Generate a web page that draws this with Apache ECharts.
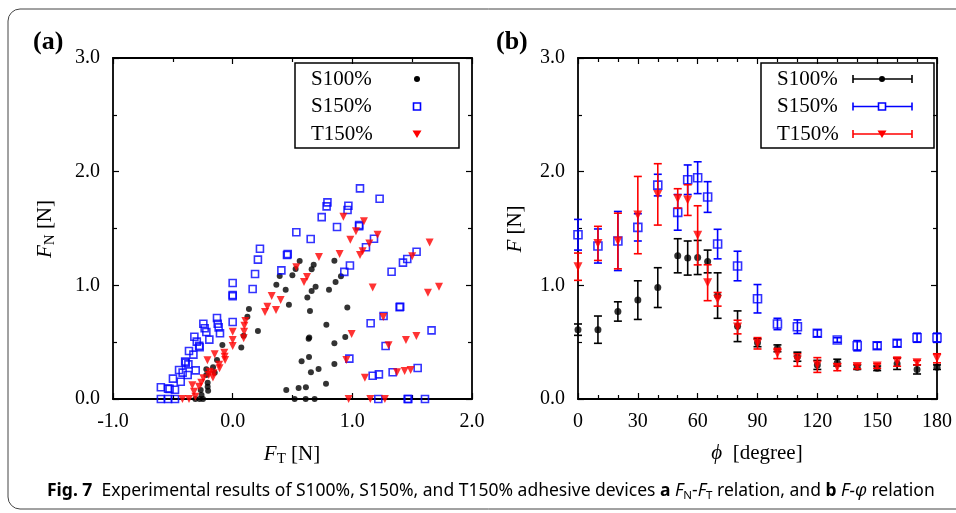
<!DOCTYPE html>
<html>
<head>
<meta charset="utf-8">
<script src="https://cdn.jsdelivr.net/npm/echarts@6/dist/echarts.min.js"></script>
<style>
  html, body { margin: 0; padding: 0; background: #fff; }
  #main { width: 956px; height: 513px; }
</style>
</head>
<body>
<div id="main"></div>
<script>
// ---------- (a) F_N versus F_T : raw measurement points ----------
const s100_FT = [0.56, 0.393, 0.499, 0.365, 0.443, 0.47, 0.136, 0.123, 0.211, 0.092, 0.072, -0.086, -0.131,
  -0.164, -0.15, -0.22, -0.22, -0.209, -0.209, -0.205, -0.267, -0.26, -0.312, -0.276, -0.248,
  0.526, 0.677, 0.66, 0.85, 0.905, 0.86, 0.805, 0.693, 0.66, 0.624, 0.646, 0.958, 0.783, 0.635, 0.64,
  0.941, 0.85, 0.638, 0.576, 0.718, 0.654, 0.85, 0.78, 0.448, 0.551, 0.612, 0.518, 0.61, 0.685];
const s100_FN = [1.215, 1.082, 1.088, 1.006, 0.962, 0.83, 0.792, 0.724, 0.599, 0.557, 0.452, 0.475, 0.343,
  0.279, 0.232, 0.261, 0.211, 0.143, 0.108, 0.073, 0.079, 0.035, 0, 0, 0,
  1.144, 1.182, 1.141, 1.217, 1.079, 1.029, 0.962, 0.988, 0.95, 0.894, 0.774, 0.806, 0.654, 0.53, 0.54,
  0.545, 0.49, 0.37, 0.332, 0.264, 0.235, 0.308, 0.135, 0.079, 0.097, 0.103, 0, 0, 0];

const s150_FT = [0.532, 0.228, 0.211, 0.454, 0.46, 0.187, 0.407, 0.167, 0, 0, 0, 0, -0.131, -0.125, -0.117, -0.106,
  -0.245, -0.234, -0.22, -0.195, -0.32, -0.30, -0.28, -0.276, -0.365, -0.328, -0.397, -0.392, -0.37,
  -0.448, -0.418, -0.309, -0.376, -0.499, -0.434, -0.60, -0.54, -0.527, -0.482, -0.60, -0.54, -0.482,
  1.064, 1.228, 0.792, 0.785, 0.967, 0.96, 0.744, 1.057, 1.057, 0.872, 0.652, 1.181, 1.114, 0.98, 0.933,
  1.537, 1.459, 1.423, 1.328, 1.40, 1.395, 1.261, 1.153, 1.662, 1.278, 0.975, 1.546, 1.337, 1.222, 1.17,
  1.217, 1.462, 1.468, 1.607];
const s150_FN = [1.467, 1.322, 1.226, 1.267, 1.275, 1.10, 1.132, 0.968, 1.02, 0.915, 0.905, 0.677, 0.712, 0.662, 0.63, 0.578,
  0.662, 0.622, 0.59, 0.522, 0.548, 0.505, 0.468, 0.456, 0.422, 0.39, 0.33, 0.32, 0.305,
  0.255, 0.232, 0.252, 0.211, 0.179, 0.152, 0.103, 0.091, 0.089, 0.082, 0, 0, 0,
  1.853, 1.762, 1.73, 1.695, 1.70, 1.663, 1.60, 1.53, 1.52, 1.513, 1.408, 1.41, 1.335, 1.174, 1.118,
  1.296, 1.232, 1.20, 1.12, 0.812, 0.808, 0.73, 0.666, 0.604, 0.466, 0.355, 0.273, 0.235, 0.217, 0.205,
  0, 0, 0, 0];

const t150_FT = [0.532, 0.326, 0.401, 0.29, 0.27, 0.362, 0, 0.106, 0.098, 0.096, 0.092, 0, 0, -0.15, -0.07, -0.067,
  -0.063, -0.211, -0.113, -0.11, -0.192, -0.2, -0.159, -0.165, -0.245, -0.262, -0.281, -0.337, -0.323,
  -0.312, -0.42, -0.365,
  0.925, 1.097, 1.03, 1.211, 1.142, 1.086, 1.064, 0.983, 0.894, 0.721, 0.621, 0.596, 1.646, 1.724, 1.632,
  1.17, 1.50, 1.259, 0.994, 1.535, 1.448, 1.303, 0.95, 1.105, 1.487, 1.437, 1.373, 0.969, 1.15, 1.272];
const t150_FN = [1.158, 0.906, 0.871, 0.812, 0.765, 0.783, 0.592, 0.686, 0.645, 0.592, 0.534, 0.519, 0.466, 0.393, 0.407, 0.372,
  0.343, 0.34, 0.302, 0.27, 0.24, 0.211, 0.226, 0.19, 0.182, 0.143, 0.108, 0.12, 0.064,
  0.02, 0, 0,
  1.604, 1.563, 1.475, 1.446, 1.367, 1.30, 1.267, 1.40, 1.275, 1.249, 1.073, 1.029, 1.376, 0.988, 0.935,
  0.982, 1.255, 0.721, 0.572, 0.554, 0.519, 0.472, 0.343, 0.188, 0.255, 0.246, 0.235, 0, 0, 0];

// ---------- (b) F versus phi : mean and error ----------
const phi = [0, 10, 20, 30, 40, 50, 55, 60, 65, 70, 80, 90, 100, 110, 120, 130, 140, 150, 160, 170, 180];
const s100_F   = [0.61, 0.61, 0.77, 0.87, 0.98, 1.26, 1.24, 1.245, 1.21, 0.91, 0.64, 0.495, 0.446, 0.372, 0.30, 0.32, 0.28, 0.27, 0.31, 0.26, 0.28];
const s100_err = [0.05, 0.12, 0.085, 0.17, 0.175, 0.15, 0.15, 0.15, 0.10, 0.2, 0.135, 0.035, 0.03, 0.04, 0.04, 0.03, 0.02, 0.02, 0.05, 0.04, 0.02];
const s150_F   = [1.445, 1.346, 1.39, 1.51, 1.882, 1.642, 1.929, 1.947, 1.777, 1.363, 1.17, 0.882, 0.66, 0.636, 0.578, 0.519, 0.469, 0.469, 0.49, 0.539, 0.539];
const s150_err = [0.135, 0.15, 0.26, 0.12, 0.095, 0.157, 0.13, 0.14, 0.135, 0.13, 0.13, 0.125, 0.05, 0.06, 0.03, 0.02, 0.045, 0.03, 0.03, 0.04, 0.04];
const t150_F   = [1.164, 1.369, 1.39, 1.618, 1.80, 1.765, 1.75, 1.44, 1.023, 0.877, 0.633, 0.49, 0.40, 0.343, 0.299, 0.279, 0.285, 0.29, 0.328, 0.32, 0.358];
const t150_err = [0.12, 0.15, 0.245, 0.34, 0.27, 0.085, 0.135, 0.26, 0.158, 0.06, 0.06, 0.05, 0.045, 0.055, 0.065, 0.03, 0.02, 0.02, 0.04, 0.02, 0.04];

const seriesNames = ['S100%', 'S150%', 'T150%'];
const seriesColors = ['#000000', '#0000ff', '#ff0000'];

const SERIF = 'Liberation Serif';
const zip = (a, b) => a.map((v, i) => [v, b[i]]);

const chart = echarts.init(document.getElementById('main'), null, { renderer: 'canvas' });

function frameAxis(base) {
  return Object.assign({
    type: 'value',
    splitLine: { show: false },
    axisLine: { onZero: false, lineStyle: { color: '#000', width: 1.8 } },
    axisTick: { inside: true, length: 6, lineStyle: { color: '#000', width: 1.2 } },
    minorTick: { show: true, length: 4, lineStyle: { color: '#000', width: 1.2 } },
    axisLabel: { color: '#000', fontFamily: SERIF, fontSize: 20, margin: 12 }
  }, base);
}
function mirror(ax) {
  const m = JSON.parse(JSON.stringify(ax));
  m.axisLabel = { show: false };
  return m;
}

const xA0 = frameAxis({ gridIndex: 0, min: -1, max: 2, interval: 1, position: 'bottom',
  minorTick: { show: true, splitNumber: 2, length: 4, lineStyle: { color: '#000', width: 1.2 } },
  axisLabel: { color: '#000', fontFamily: SERIF, fontSize: 20, margin: 13, formatter: v => v.toFixed(1) } });
const yA0 = frameAxis({ gridIndex: 0, min: 0, max: 3, interval: 1, position: 'left',
  minorTick: { show: true, splitNumber: 2, length: 4, lineStyle: { color: '#000', width: 1.2 } },
  axisLabel: { color: '#000', fontFamily: SERIF, fontSize: 20, margin: 13, formatter: v => v.toFixed(1) } });
const xA1 = frameAxis({ gridIndex: 1, min: 0, max: 180, interval: 30, position: 'bottom',
  minorTick: { show: true, splitNumber: 3, length: 4, lineStyle: { color: '#000', width: 1.2 } },
  axisLabel: { color: '#000', fontFamily: SERIF, fontSize: 20, margin: 13 } });
const yA1 = frameAxis({ gridIndex: 1, min: 0, max: 3, interval: 1, position: 'left',
  minorTick: { show: true, splitNumber: 2, length: 4, lineStyle: { color: '#000', width: 1.2 } },
  axisLabel: { color: '#000', fontFamily: SERIF, fontSize: 20, margin: 13, formatter: v => v.toFixed(1) } });

const xTop0 = Object.assign(mirror(xA0), { position: 'top' });
const yRight0 = Object.assign(mirror(yA0), { position: 'right' });
const xTop1 = Object.assign(mirror(xA1), { position: 'top' });
const yRight1 = Object.assign(mirror(yA1), { position: 'right' });

// error bar renderer: vertical whisker with caps
function errorBarSeries(name, color, F, err, z) {
  return {
    name: name + ' err', type: 'custom', xAxisIndex: 2, yAxisIndex: 2, z: z, clip: false,
    data: phi.map((p, i) => [p, F[i] - err[i], F[i] + err[i]]),
    encode: { x: 0, y: [1, 2] },
    renderItem: function (params, api) {
      const lo = api.coord([api.value(0), api.value(1)]);
      const hi = api.coord([api.value(0), api.value(2)]);
      const w = 4;
      const st = { stroke: color, lineWidth: 1.6 };
      return {
        type: 'group',
        children: [
          { type: 'line', shape: { x1: lo[0], y1: lo[1], x2: hi[0], y2: hi[1] }, style: st },
          { type: 'line', shape: { x1: lo[0] - w, y1: lo[1], x2: lo[0] + w, y2: lo[1] }, style: st },
          { type: 'line', shape: { x1: hi[0] - w, y1: hi[1], x2: hi[0] + w, y2: hi[1] }, style: st }
        ]
      };
    }
  };
}

const markerDefs = [
  { symbol: 'circle', size: 6, rotate: 0, style: { color: '#000' } },
  { symbol: 'rect', size: 7, rotate: 0, style: { color: 'rgba(0,0,0,0)', borderColor: '#0000ff', borderWidth: 1.6 } },
  { symbol: 'triangle', size: 8, rotate: 180, style: { color: '#ff0000' } }
];

const leftData = [zip(s100_FT, s100_FN), zip(s150_FT, s150_FN), zip(t150_FT, t150_FN)];
const rightData = [zip(phi, s100_F), zip(phi, s150_F), zip(phi, t150_F)];
const rightErr = [s100_err, s150_err, t150_err];

const series = [];
leftData.forEach((d, i) => {
  series.push({
    name: seriesNames[i], type: 'scatter', xAxisIndex: 0, yAxisIndex: 0, data: d,
    symbol: markerDefs[i].symbol, symbolSize: markerDefs[i].size, symbolRotate: markerDefs[i].rotate,
    itemStyle: markerDefs[i].style, z: 3 + i, clip: false
  });
});
rightData.forEach((d, i) => {
  series.push(errorBarSeries(seriesNames[i], seriesColors[i], d.map(p => p[1]), rightErr[i], 3 + 2 * i));
  series.push({
    name: seriesNames[i], type: 'scatter', xAxisIndex: 2, yAxisIndex: 2, data: d,
    symbol: markerDefs[i].symbol, symbolSize: markerDefs[i].size + 1, symbolRotate: markerDefs[i].rotate,
    itemStyle: markerDefs[i].style, z: 4 + 2 * i, clip: false
  });
});

// legend boxes drawn as graphic groups
function legendMarker(i, cx, cy) {
  if (i === 0) return { type: 'circle', shape: { cx: cx, cy: cy, r: 3 }, style: { fill: '#000' } };
  if (i === 1) return { type: 'rect', shape: { x: cx - 3.5, y: cy - 3.5, width: 7, height: 7 },
    style: { fill: '#fff', stroke: '#0000ff', lineWidth: 1.6 } };
  return { type: 'polygon', shape: { points: [[cx - 4.5, cy - 3.5], [cx + 4.5, cy - 3.5], [cx, cy + 4]] },
    style: { fill: '#ff0000' } };
}
function legendBox(x, y, w, h, textX, withBars, markX) {
  const ys = [79, 106.5, 134];
  const children = [{ type: 'rect', shape: { x: x, y: y, width: w, height: h },
    style: { fill: '#fff', stroke: '#000', lineWidth: 1.5 } }];
  seriesNames.forEach((n, i) => {
    children.push({ type: 'text', style: { x: textX, y: ys[i], text: n, fill: '#000',
      font: '21px "' + SERIF + '"', textVerticalAlign: 'middle' } });
    if (withBars) {
      const c = seriesColors[i];
      children.push({ type: 'line', shape: { x1: markX - 29, y1: ys[i], x2: markX + 30, y2: ys[i] }, style: { stroke: c, lineWidth: 1.6 } });
      children.push({ type: 'line', shape: { x1: markX - 29, y1: ys[i] - 4, x2: markX - 29, y2: ys[i] + 4 }, style: { stroke: c, lineWidth: 1.6 } });
      children.push({ type: 'line', shape: { x1: markX + 30, y1: ys[i] - 4, x2: markX + 30, y2: ys[i] + 4 }, style: { stroke: c, lineWidth: 1.6 } });
    }
    children.push(legendMarker(i, markX, ys[i]));
  });
  return { type: 'group', z: 50, children: children };
}

const richAxis = {
  it: { fontFamily: SERIF, fontStyle: 'italic', fontSize: 21, color: '#000', verticalAlign: 'middle', lineHeight: 26 },
  sub: { fontFamily: SERIF, fontSize: 15, color: '#000', verticalAlign: 'bottom', lineHeight: 15, padding: [0, 0, 0, 0] },
  rm: { fontFamily: SERIF, fontSize: 21, color: '#000', verticalAlign: 'middle', lineHeight: 26 }
};
const capFont = 'Noto Sans';
const CAP = 17.5;
const richCap = {
  b: { fontFamily: capFont, fontWeight: 'bold', fontSize: CAP, color: '#111', lineHeight: 22 },
  r: { fontFamily: capFont, fontSize: CAP, color: '#111', lineHeight: 22 },
  i: { fontFamily: capFont, fontStyle: 'italic', fontSize: CAP, color: '#111', lineHeight: 22 },
  s: { fontFamily: capFont, fontSize: 11.5, color: '#111', lineHeight: 14, verticalAlign: 'bottom' }
};

const graphic = [
  { type: 'rect', z: 0, silent: true, shape: { x: 8, y: 9, width: 1000, height: 500, r: 12 },
    style: { fill: 'none', stroke: '#444', lineWidth: 1 } },
  { type: 'text', style: { x: 33, y: 42, text: '(a)', font: 'bold 26px "' + SERIF + '"', fill: '#000', textVerticalAlign: 'middle' } },
  { type: 'text', style: { x: 496, y: 42, text: '(b)', font: 'bold 26px "' + SERIF + '"', fill: '#000', textVerticalAlign: 'middle' } },
  legendBox(295, 63, 164, 85, 311, false, 417),
  legendBox(761, 63, 173, 85, 777, true, 882),
  { type: 'text', x: 45, y: 229, rotation: Math.PI / 2,
    style: { text: '{it|F}{sub|N}{rm| [N]}', rich: richAxis, align: 'center', verticalAlign: 'middle' } },
  { type: 'text', x: 515, y: 229, rotation: Math.PI / 2,
    style: { text: '{it|F}{rm| [N]}', rich: richAxis, align: 'center', verticalAlign: 'middle' } },
  { type: 'text', x: 292, y: 454,
    style: { text: '{it|F}{sub|T}{rm| [N]}', rich: richAxis, align: 'center', verticalAlign: 'middle' } },
  { type: 'text', x: 757, y: 453,
    style: { text: '{it|ϕ}{rm|  [degree]}', rich: richAxis, align: 'center', verticalAlign: 'middle' } },
  { type: 'text', x: 47, y: 491,
    style: { text: '{b|Fig. 7}{r|  Experimental results of S100%, S150%, and T150% adhesive devices }{b|a}{r| }{i|F}{s|N}{r|-}{i|F}{s|T}{r| relation, and }{b|b}{r| }{i|F-φ}{r| relation}',
      rich: richCap, align: 'left', verticalAlign: 'middle' } }
];

chart.setOption({
  animation: false,
  backgroundColor: '#fff',
  grid: [
    { left: 113, top: 58, width: 359, height: 341 },
    { left: 578, top: 58, width: 359, height: 341 }
  ],
  xAxis: [xA0, xTop0, xA1, xTop1],
  yAxis: [yA0, yRight0, yA1, yRight1],
  series: series,
  graphic: graphic
});
</script>
</body>
</html>
